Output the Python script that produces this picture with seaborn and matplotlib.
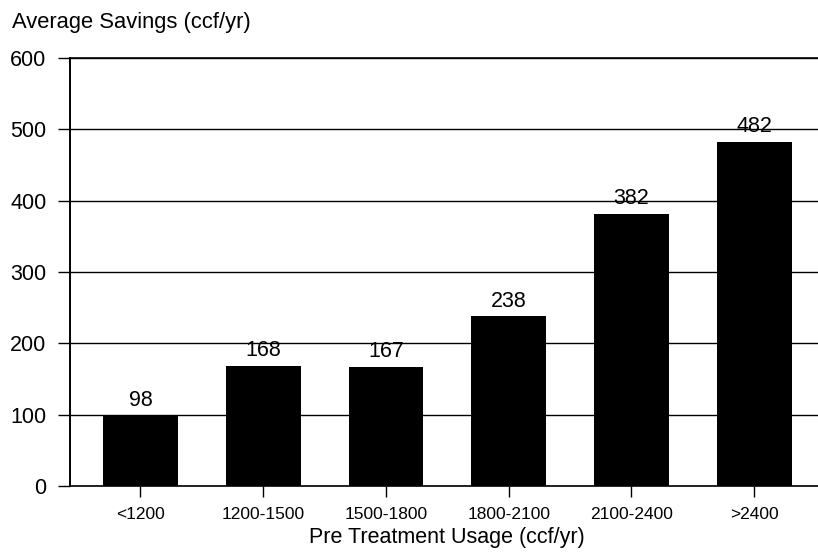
import matplotlib
matplotlib.use("Agg")
import matplotlib.pyplot as plt
import seaborn as sns
import pandas as pd

categories = ["<1200", "1200-1500", "1500-1800", "1800-2100", "2100-2400", ">2400"]
savings = [98, 168, 167, 238, 382, 482]
yticks = [0, 100, 200, 300, 400, 500, 600]

sns.set_theme(style="white")
plt.rcParams['font.family'] = ['Liberation Sans', 'DejaVu Sans']

df = pd.DataFrame({"cat": categories, "val": savings})

fig = plt.figure(figsize=(8.18, 5.52), dpi=100)
ax = fig.add_axes([70/818, 1 - 486/552, 748/818, 428/552])

sns.barplot(data=df, x="cat", y="val", color="black", saturation=1,
            width=0.61, ax=ax, edgecolor="none", zorder=3)

ax.set_xlim(-0.574, 5.52)
ax.set_ylim(0, 600)
ax.set_yticks(yticks)
ax.set_yticklabels([str(t) for t in yticks], fontsize=15.5)
ax.tick_params(axis='y', direction='out', length=9, width=1, color='black', pad=8, left=True)
ax.tick_params(axis='x', direction='out', length=8, width=1, color='black', pad=7, bottom=True, labelsize=12.5)
for lab in ax.get_xticklabels():
    lab.set_color('black')
for lab in ax.get_yticklabels():
    lab.set_color('black')

ax.yaxis.grid(True, color='black', linewidth=1, zorder=1)
ax.xaxis.grid(False)
ax.set_axisbelow(True)

for side in ['left', 'bottom', 'top']:
    ax.spines[side].set_visible(True)
    ax.spines[side].set_color('black')
ax.spines['left'].set_linewidth(1.4)
ax.spines['bottom'].set_linewidth(1.2)
ax.spines['top'].set_linewidth(1.2)
ax.spines['right'].set_visible(False)

for i, v in enumerate(savings):
    ax.annotate(str(v), xy=(i, v), xytext=(0, 7), textcoords='offset points',
                ha='center', va='baseline', fontsize=15.5, color='black', zorder=4)

ax.set_ylabel("")
ax.set_xlabel("Pre Treatment Usage (ccf/yr)", fontsize=15.5, color='black', va='top')
ax.xaxis.set_label_coords(0.504, -0.095)

fig.text(12/818, 1 - 28/552, "Average Savings (ccf/yr)", fontsize=15.8,
         ha='left', va='baseline', color='black')

fig.savefig("out.png", dpi=100)
